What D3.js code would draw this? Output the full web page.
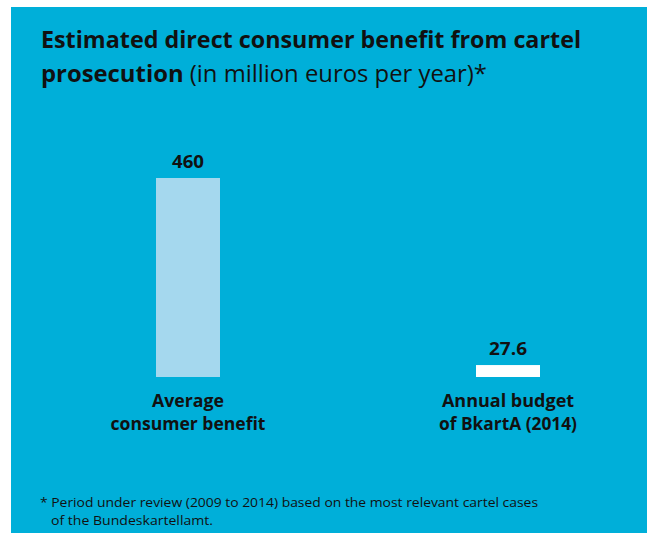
<!DOCTYPE html>
<html>
<head>
<meta charset="utf-8">
<script src="https://cdn.jsdelivr.net/npm/d3@7"></script>
<style>
  html, body { margin: 0; padding: 0; background: #ffffff; }
  svg { display: block; }
  text { font-family: "Open Sans", Lato, sans-serif; fill: #111111; }
</style>
</head>
<body>
<div id="chart"></div>
<script>
// chart data
const categories = ["Average consumer benefit", "Annual budget of BkartA (2014)"];
const values = [460, 27.6];
const valueLabels = ["460", "27.6"];
const categoryLines = [["Average", "consumer benefit"], ["Annual budget", "of BkartA (2014)"]];
const barColors = ["#a5d8ee", "#ffffff"];

const width = 662, height = 533;

const svg = d3.select('#chart').append('svg')
    .attr('width', width)
    .attr('height', height);

// blue panel
svg.append('rect')
    .attr('x', 11).attr('y', 7)
    .attr('width', 636).attr('height', height - 7)
    .attr('fill', '#00afd9');

// squeeze text to the width seen in the reference
function fit(sel, w) {
    sel.each(function() {
        const len = this.getComputedTextLength();
        if (Math.abs(len - w) > 1) {
            d3.select(this).attr('textLength', w).attr('lengthAdjust', 'spacingAndGlyphs');
        }
    });
}

// title
const t1 = svg.append('text')
    .attr('x', 41).attr('y', 48)
    .style('font-size', '23px').style('font-weight', 'bold')
    .text('Estimated direct consumer benefit from cartel');
fit(t1, 540);

const t2 = svg.append('text')
    .attr('x', 41).attr('y', 82)
    .style('font-size', '23px');
t2.append('tspan').style('font-weight', 'bold').text('prosecution');
t2.append('tspan').text(' (in million euros per year)*');
fit(t2, 446);

// scales
const x = d3.scaleBand()
    .domain(categories)
    .range([28, 668])
    .paddingInner(0.8)
    .paddingOuter(0.4);

const y = d3.scaleLinear()
    .domain([0, 460])
    .range([377, 178]);

// bars
svg.selectAll('.bar')
    .data(categories)
    .enter().append('rect')
    .attr('class', 'bar')
    .attr('x', d => x(d))
    .attr('y', (d, i) => y(values[i]))
    .attr('width', x.bandwidth())
    .attr('height', (d, i) => y(0) - y(values[i]))
    .attr('fill', (d, i) => barColors[i]);

// value labels
svg.selectAll('.value-label')
    .data(categories)
    .enter().append('text')
    .attr('class', 'value-label')
    .attr('x', d => x(d) + x.bandwidth() / 2)
    .attr('y', (d, i) => y(values[i]) - 10)
    .attr('text-anchor', 'middle')
    .style('font-size', '18px')
    .style('font-weight', 'bold')
    .each(function(d, i) {
        d3.select(this).text(valueLabels[i]);
        fit(d3.select(this), i === 0 ? 32 : 38);
    });

// category labels
const catWidths = [[72, 155], [132, 138]];
categories.forEach((c, i) => {
    categoryLines[i].forEach((line, j) => {
        const lbl = svg.append('text')
            .attr('class', 'cat-label')
            .attr('x', x(c) + x.bandwidth() / 2)
            .attr('y', 407 + j * 23)
            .attr('text-anchor', 'middle')
            .style('font-size', '18px')
            .style('font-weight', 'bold')
            .text(line);
        fit(lbl, catWidths[i][j]);
    });
});

// footnote
const f1 = svg.append('text')
    .attr('x', 40).attr('y', 507)
    .style('font-size', '13.5px')
    .text('*  Period under review (2009 to 2014) based on the most relevant cartel cases');
fit(f1, 498);

const f2 = svg.append('text')
    .attr('x', 51).attr('y', 525)
    .style('font-size', '13.5px')
    .text('of the Bundeskartellamt.');
fit(f2, 162);
</script>
</body>
</html>
